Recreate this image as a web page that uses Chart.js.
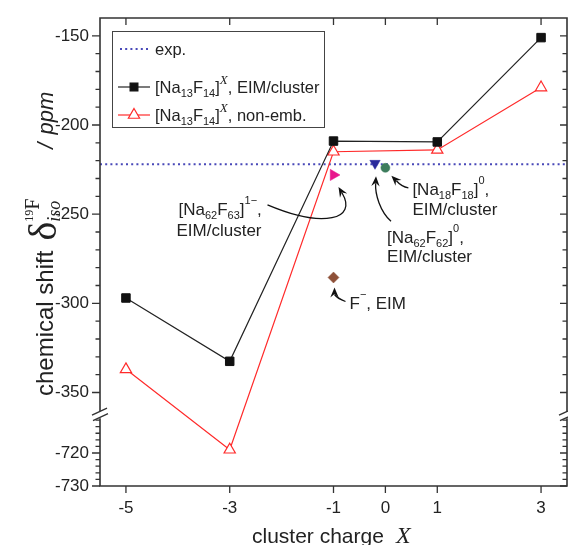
<!DOCTYPE html>
<html><head><meta charset="utf-8">
<script src="https://cdn.jsdelivr.net/npm/chart.js@4/dist/chart.umd.min.js"></script>
<style>html,body{margin:0;padding:0;background:#fff}canvas{display:block}</style>
</head><body>
<canvas id="c" width="568" height="545"></canvas>
<script>
// ---------- data ----------
const charges     = [-5, -3, -1, 1, 3];
const eimCluster  = [-297, -332.5, -209, -209.5, -151];   // [Na13F14]^X, EIM/cluster
const nonEmb      = [-337, -719, -215, -214, -179];       // [Na13F14]^X, non-emb.
const expShift    = -222;                                 // exp.
const expRange    = [-5.5, 3.5];
const na62f63     = [{x: -1,   y: -228}];                 // [Na62F63]1-, EIM/cluster
const na62f62     = [{x: -0.2, y: -221.5}];               // [Na62F62]0, EIM/cluster
const na18f18     = [{x: 0,    y: -224}];                 // [Na18F18]0, EIM/cluster
const fEim        = [{x: -1,   y: -285.5}];               // F-, EIM
const xTicks      = [-5, -3, -1, 0, 1, 3];
const yTicksMajor = [-150, -200, -250, -300, -350, -720, -730];
const yMinorUpper = [-160,-170,-180,-190,-210,-220,-230,-240,-260,-270,-280,-290,-310,-320,-330,-340];
const yMinorLower = [-710,-712,-714,-716,-718,-722,-724,-726,-728];

// ---------- broken y scale ----------
const BRK = {upperMin: -361, lowerMax: -707.6, k: 1.849};
function toV(v){ if (v >= BRK.upperMin) return v; if (v <= BRK.lowerMax) return BRK.upperMin - (BRK.lowerMax - v) * BRK.k; return BRK.upperMin; }
function fromV(u){ if (u >= BRK.upperMin) return u; return BRK.lowerMax - (BRK.upperMin - u) / BRK.k; }
class BrokenScale extends Chart.LinearScale {
  buildTicks(){ this.start = this.min; this.end = this.max; return yTicksMajor.map(v => ({value: v})); }
  configure(){ super.configure(); this._startValue = toV(this.min); this._endValue = toV(this.max); this._valueRange = this._endValue - this._startValue; }
  getPixelForValue(v){ return v === null ? NaN : super.getPixelForValue(toV(v)); }
  getValueForPixel(p){ return fromV(super.getValueForPixel(p)); }
}
BrokenScale.id = 'brokenLinear';
BrokenScale.defaults = Chart.LinearScale.defaults;
Chart.register(BrokenScale);

const SANS = '"Liberation Sans", Arial, sans-serif';
const SERIF = '"Liberation Serif", "Times New Roman", serif';
const TXT = '#222';

function drawRich(ctx, x, y, segs){
  let cx = x;
  for (const s of segs){
    if (s.stack){
      let w = 0;
      for (const part of s.stack){
        let px = cx;
        for (const p of part){
          ctx.font = (p.style||'') + ' ' + p.size + 'px ' + (p.family||SANS);
          ctx.fillText(p.t, px, y + (p.dy||0));
          px += ctx.measureText(p.t).width;
        }
        w = Math.max(w, px - cx);
      }
      cx += w;
      continue;
    }
    if (s.gap){ cx += s.gap; continue; }
    ctx.font = (s.style||'') + ' ' + s.size + 'px ' + (s.family||SANS);
    ctx.fillText(s.t, cx, y + (s.dy||0));
    cx += ctx.measureText(s.t).width;
  }
  return cx - x;
}
function arrow(ctx, p0, c1, c2, p3){
  ctx.save();
  ctx.strokeStyle = '#111'; ctx.fillStyle = '#111'; ctx.lineWidth = 1.3;
  const ang = Math.atan2(p3[1]-c2[1], p3[0]-c2[0]);
  const L = 10, W = 4.2;
  const bx = p3[0] - Math.cos(ang)*L*0.7, by = p3[1] - Math.sin(ang)*L*0.7;
  ctx.beginPath(); ctx.moveTo(p0[0],p0[1]); ctx.bezierCurveTo(c1[0],c1[1],c2[0],c2[1],bx,by); ctx.stroke();
  const ca = Math.cos(ang), sa = Math.sin(ang);
  ctx.beginPath();
  ctx.moveTo(p3[0], p3[1]);
  ctx.lineTo(p3[0] - ca*L - sa*W, p3[1] - sa*L + ca*W);
  ctx.lineTo(p3[0] - ca*L*0.65, p3[1] - sa*L*0.65);
  ctx.lineTo(p3[0] - ca*L + sa*W, p3[1] - sa*L - ca*W);
  ctx.closePath(); ctx.fill();
  ctx.restore();
}

const decor = {
  id: 'decor',
  afterDraw(chart){
    const {ctx, chartArea: {left, right, top, bottom}, scales: {x, y}} = chart;
    ctx.save();
    ctx.strokeStyle = '#333'; ctx.lineWidth = 1.6; ctx.lineCap = 'butt';
    const yb = y.getPixelForValue(BRK.upperMin);
    const g0 = yb - 1, g1 = yb + 6;
    ctx.beginPath();
    ctx.moveTo(left - 0.8, top); ctx.lineTo(right + 0.8, top);
    ctx.moveTo(left - 0.8, bottom); ctx.lineTo(right + 0.8, bottom);
    ctx.moveTo(left, top); ctx.lineTo(left, g0); ctx.moveTo(left, g1); ctx.lineTo(left, bottom);
    ctx.moveTo(right, top); ctx.lineTo(right, g0); ctx.moveTo(right, g1); ctx.lineTo(right, bottom);
    ctx.stroke();
    // break marks
    ctx.lineWidth = 1.4;
    ctx.beginPath();
    for (const ax of [left, right]){
      ctx.moveTo(ax - 8, yb + 3); ctx.lineTo(ax + 7, yb - 4);
      ctx.moveTo(ax - 7, yb + 8.5); ctx.lineTo(ax + 8, yb + 1.5);
    }
    ctx.stroke();
    // ticks
    ctx.lineWidth = 1.3;
    ctx.beginPath();
    for (const v of xTicks){
      const px = x.getPixelForValue(v);
      ctx.moveTo(px, bottom); ctx.lineTo(px, bottom + 7);
      ctx.moveTo(px, top); ctx.lineTo(px, top + 7);
    }
    for (const v of yTicksMajor){
      const py = y.getPixelForValue(v);
      ctx.moveTo(left - 8, py); ctx.lineTo(left, py);
      ctx.moveTo(right - 7, py); ctx.lineTo(right, py);
    }
    for (const v of yMinorUpper.concat(yMinorLower)){
      const py = y.getPixelForValue(v);
      ctx.moveTo(left - 4.5, py); ctx.lineTo(left, py);
      ctx.moveTo(right - 4.5, py); ctx.lineTo(right, py);
    }
    ctx.stroke();

    // legend
    ctx.lineWidth = 1; ctx.strokeStyle = '#444';
    ctx.strokeRect(112.5, 31.5, 212, 96);
    ctx.fillStyle = TXT; ctx.textBaseline = 'alphabetic';
    // row 1
    ctx.save(); ctx.strokeStyle = '#4848b8'; ctx.lineWidth = 2; ctx.setLineDash([2, 3.2]);
    ctx.beginPath(); ctx.moveTo(120, 49); ctx.lineTo(150, 49); ctx.stroke(); ctx.restore();
    drawRich(ctx, 155, 55, [{t: 'exp.', size: 16.5}]);
    // row 2
    ctx.save(); ctx.strokeStyle = '#222'; ctx.lineWidth = 1.2;
    ctx.beginPath(); ctx.moveTo(118, 87); ctx.lineTo(150, 87); ctx.stroke();
    ctx.fillStyle = '#111'; ctx.strokeStyle = '#111';
    Chart.helpers.drawPoint(ctx, {pointStyle: 'rect', radius: 5.5, rotation: 0, borderWidth: 1}, 134, 87);
    ctx.restore();
    ctx.fillStyle = TXT;
    const naSegs = (tail) => [{t: '[Na', size: 16.5}, {t: '13', size: 11, dy: 4}, {t: 'F', size: 16.5}, {t: '14', size: 11, dy: 4}, {t: ']', size: 16.5},
      {t: 'X', size: 13, style: 'italic', family: SERIF, dy: -9}, {t: tail, size: 16.5}];
    drawRich(ctx, 155, 93, naSegs(', EIM/cluster'));
    // row 3
    ctx.save(); ctx.strokeStyle = '#ff2a2a'; ctx.lineWidth = 1.2;
    ctx.beginPath(); ctx.moveTo(118, 115); ctx.lineTo(150, 115); ctx.stroke();
    ctx.fillStyle = '#fff';
    Chart.helpers.drawPoint(ctx, {pointStyle: 'triangle', radius: 6.5, rotation: 0, borderWidth: 1.2}, 134, 115);
    ctx.restore();
    ctx.fillStyle = TXT;
    drawRich(ctx, 155, 121, naSegs(', non-emb.'));

    // annotations
    const pm = [x.getPixelForValue(na62f63[0].x), y.getPixelForValue(na62f63[0].y)];
    const pn = [x.getPixelForValue(na62f62[0].x), y.getPixelForValue(na62f62[0].y)];
    const pg = [x.getPixelForValue(na18f18[0].x), y.getPixelForValue(na18f18[0].y)];
    const pf = [x.getPixelForValue(fEim[0].x), y.getPixelForValue(fEim[0].y)];
    ctx.fillStyle = TXT;
    drawRich(ctx, pm[0] - 155, pm[1] + 40, [{t: '[Na', size: 17}, {t: '62', size: 11, dy: 4}, {t: 'F', size: 17}, {t: '63', size: 11, dy: 4}, {t: ']', size: 17}, {t: '1\u2212', size: 11, dy: -11}, {t: ',', size: 17}]);
    drawRich(ctx, pm[0] - 157, pm[1] + 61, [{t: 'EIM/cluster', size: 17}]);
    arrow(ctx, [pm[0] - 66, pm[1] + 30], [pm[0] - 9, pm[1] + 54], [pm[0] + 24, pm[1] + 44], [pm[0] + 5, pm[1] + 12]);

    drawRich(ctx, pg[0] + 27, pg[1] + 27, [{t: '[Na', size: 17}, {t: '18', size: 11, dy: 4}, {t: 'F', size: 17}, {t: '18', size: 11, dy: 4}, {t: ']', size: 17}, {t: '0', size: 11, dy: -11}, {t: ',', size: 17}]);
    drawRich(ctx, pg[0] + 27, pg[1] + 47, [{t: 'EIM/cluster', size: 17}]);
    arrow(ctx, [pg[0] + 23, pg[1] + 20], [pg[0] + 16, pg[1] + 19], [pg[0] + 11, pg[1] + 13], [pg[0] + 6, pg[1] + 8]);

    drawRich(ctx, pn[0] + 12, pn[1] + 80, [{t: '[Na', size: 17}, {t: '62', size: 11, dy: 4}, {t: 'F', size: 17}, {t: '62', size: 11, dy: 4}, {t: ']', size: 17}, {t: '0', size: 11, dy: -11}, {t: ',', size: 17}]);
    drawRich(ctx, pn[0] + 12, pn[1] + 99, [{t: 'EIM/cluster', size: 17}]);
    arrow(ctx, [pn[0] + 16, pn[1] + 58], [pn[0] + 5, pn[1] + 48], [pn[0] + 0, pn[1] + 31], [pn[0] + 1, pn[1] + 13]);

    drawRich(ctx, pf[0] + 16, pf[1] + 32, [{t: 'F', size: 17}, {t: '\u2212', size: 11, dy: -11}, {t: ', EIM', size: 17}]);
    arrow(ctx, [pf[0] + 12, pf[1] + 24], [pf[0] + 4, pf[1] + 21], [pf[0] + 1, pf[1] + 17], [pf[0] + 1, pf[1] + 10]);

    // x title
    ctx.fillStyle = '#222';
    drawRich(ctx, 252, 543, [{t: 'cluster charge', size: 21}, {gap: 12}, {t: 'X', size: 24, style: 'italic', family: SERIF}]);
    // y title
    ctx.save();
    ctx.translate(45, 396); ctx.rotate(-Math.PI / 2);
    drawRich(ctx, 0, 8, [
      {t: 'chemical shift', size: 24}, {gap: 10},
      {t: '\u03b4', size: 40, family: SERIF, dy: 3},
      {stack: [
        [{t: '19', size: 12, family: SERIF, dy: -20}, {t: 'F', size: 20, family: SERIF, dy: -14}],
        [{t: 'iso', size: 18, style: 'italic', family: SERIF, dy: 7}]
      ]},
      {gap: 50},
      {t: '/', size: 22, style: 'italic'}, {gap: 8}, {t: 'ppm', size: 22, style: 'italic'}
    ]);
    ctx.restore();
    ctx.restore();
  }
};

const pts = (xs, ys) => xs.map((v, i) => ({x: v, y: ys[i]}));

new Chart(document.getElementById('c'), {
  type: 'line',
  data: {
    datasets: [
      {label: 'F-, EIM', data: fEim, showLine: false, pointStyle: 'rectRot', pointRadius: 5.5, pointBackgroundColor: '#8e5038', pointBorderColor: '#8e5038', pointBorderWidth: 0.5},
      {label: 'Na18F18', data: na18f18, showLine: false, pointStyle: 'circle', pointRadius: 4.5, pointBackgroundColor: '#3d7d5c', pointBorderColor: '#3d7d5c', pointBorderWidth: 0.5},
      {label: 'Na62F62', data: na62f62, showLine: false, pointStyle: 'triangle', pointRotation: 180, pointRadius: 6, pointBackgroundColor: '#2a2a9c', pointBorderColor: '#2a2a9c', pointBorderWidth: 0.5},
      {label: 'Na62F63', data: na62f63, showLine: false, pointStyle: 'triangle', pointRotation: 90, pointRadius: 6.5, pointBackgroundColor: '#e8168c', pointBorderColor: '#e8168c', pointBorderWidth: 0.5},
      {label: 'EIM/cluster', data: pts(charges, eimCluster), borderColor: '#222', borderWidth: 1.2, pointStyle: 'rect', pointRadius: 6, pointBackgroundColor: '#111', pointBorderColor: '#111', pointBorderWidth: 1},
      {label: 'non-emb.', data: pts(charges, nonEmb), borderColor: '#ff2a2a', borderWidth: 1.2, pointStyle: 'triangle', pointRadius: 6.5, pointBackgroundColor: '#fff', pointBorderColor: '#ff2a2a', pointBorderWidth: 1.2},
      {label: 'exp.', data: expRange.map(v => ({x: v, y: expShift})), borderColor: '#4848b8', borderWidth: 2, borderDash: [2, 3.2], pointRadius: 0}
    ]
  },
  options: {
    responsive: false, devicePixelRatio: 1, animation: false,
    layout: {autoPadding: false, padding: {top: 18, right: 1, left: 0, bottom: 0}},
    plugins: {legend: {display: false}, tooltip: {enabled: false}},
    elements: {line: {tension: 0}},
    scales: {
      x: {type: 'linear', min: expRange[0], max: expRange[1],
          afterBuildTicks: s => { s.ticks = xTicks.map(v => ({value: v})); },
          afterFit: s => { s.height = 59; s.paddingLeft = 0; s.paddingRight = 0; },
          grid: {display: false, drawTicks: false}, border: {display: false},
          ticks: {autoSkip: false, padding: 12, color: '#222', font: {family: SANS, size: 17}, maxRotation: 0, callback: v => String(v)}},
      y: {type: 'brokenLinear', min: -730, max: -140,
          afterFit: s => { s.width = 100; s.paddingTop = 0; s.paddingBottom = 0; },
          grid: {display: false, drawTicks: false}, border: {display: false},
          ticks: {autoSkip: false, padding: 11, color: '#222', font: {family: SANS, size: 17}, callback: v => String(v)}}
    }
  },
  plugins: [decor]
});
</script>
</body></html>
